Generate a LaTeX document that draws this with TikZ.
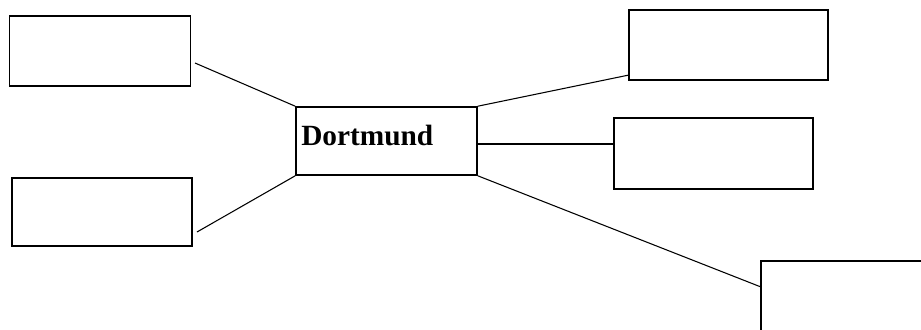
\documentclass[tikz,border=0pt]{standalone}
\usepackage{fontspec}
\setmainfont{Liberation Serif}
\begin{document}
\begin{tikzpicture}[x=0.75pt,y=-0.75pt,
  box/.style={draw=black,line width=1.2pt,fill=white,inner sep=0pt,rectangle},
  link/.style={draw=black,line width=0.8pt}]
\useasboundingbox (0,0) rectangle (921,329);
\clip (0,0) rectangle (921,329);
\fill[white] (0,0) rectangle (921,329);
% boxes
\node[box,minimum width=181*0.75pt,minimum height=70*0.75pt] (tl) at (100,51) {};
\node[box,minimum width=180*0.75pt,minimum height=68*0.75pt] (bl) at (102,212) {};
\node[box,minimum width=181*0.75pt,minimum height=68*0.75pt] (c) at (386.5,141) {};
\node[anchor=base west,inner sep=0pt,font=\fontsize{22}{24}\selectfont\bfseries] (lbl) at (301,145) {Dortmund};
\node[box,minimum width=199*0.75pt,minimum height=70*0.75pt] (tr) at (728.5,45) {};
\node[box,minimum width=199*0.75pt,minimum height=71*0.75pt] (mr) at (713.5,153.5) {};
\node[box,minimum width=200*0.75pt,minimum height=70*0.75pt] (br) at (861,296) {};
% connector end points
\coordinate (tlend) at (195,63);
\coordinate (blend) at (197,232);
\coordinate (trend) at (629,75);
\coordinate (cmid) at (477,144);
\coordinate (mrend) at (614,144);
\coordinate (brend) at (761,287);
% connectors
\draw[link] (tlend) -- (c.north west);
\draw[link] (blend) -- (c.south west);
\draw[link] (c.north east) -- (trend);
\draw[link] (cmid) -- (mrend);
\draw[link] (c.south east) -- (brend);
\end{tikzpicture}
\end{document}
